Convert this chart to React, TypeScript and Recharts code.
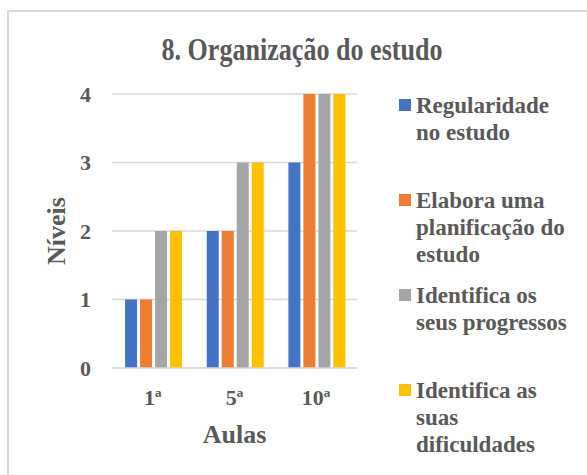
import React from "react";
import { BarChart, Bar, XAxis, YAxis, CartesianGrid } from "recharts";

const aulas = ["1ª", "5ª", "10ª"];
const regularidade = [1, 2, 3];
const planificacao = [1, 2, 4];
const progressos = [2, 3, 4];
const dificuldades = [2, 3, 4];
const niveis = [0, 1, 2, 3, 4];

const series = [
  { key: "regularidade", name: "Regularidade no estudo", color: "#4472C4" },
  { key: "planificacao", name: "Elabora uma planificação do estudo", color: "#ED7D31" },
  { key: "progressos", name: "Identifica os seus progressos", color: "#A5A5A5" },
  { key: "dificuldades", name: "Identifica as suas dificuldades", color: "#FFC000" },
];

const data = aulas.map((aula, i) => ({
  aula,
  regularidade: regularidade[i],
  planificacao: planificacao[i],
  progressos: progressos[i],
  dificuldades: dificuldades[i],
}));

const font = '"Liberation Serif", "Times New Roman", serif';
const textColor = "#595959";
const gridColor = "#d9d9d9";

export default function App() {
  return (
    <div style={{ position: "absolute", left: 0, top: 0, width: 587, height: 475, overflow: "hidden", background: "#fff", fontFamily: font }}>
      {/* frame, only top/left edges show in the crop */}
      <div style={{ position: "absolute", left: 7, top: 10, width: 620, height: 520, border: `2px solid ${gridColor}` }} />

      {/* title is a bit squashed sideways in the original */}
      <svg width={587} height={80} style={{ position: "absolute", left: 0, top: 0 }}>
        <text
          x={302}
          y={60}
          textAnchor="middle"
          fontFamily={font}
          fontWeight="bold"
          fontSize={31}
          textLength={281}
          lengthAdjust="spacingAndGlyphs"
          fill={textColor}
        >
          8. Organização do estudo
        </text>
      </svg>

      <BarChart
        width={587}
        height={475}
        data={data}
        margin={{ top: 94, right: 230, bottom: 0, left: 0 }}
        barCategoryGap="16%"
        barGap={3}
        style={{ position: "absolute", left: 0, top: 0 }}
      >
        <CartesianGrid vertical={false} stroke={gridColor} strokeWidth={1.5} />
        <XAxis
          dataKey="aula"
          height={107}
          tickLine={false}
          axisLine={{ stroke: gridColor, strokeWidth: 1.5 }}
          tickMargin={15}
          tick={{ fontSize: 22, fontWeight: "bold", fill: textColor, fontFamily: font }}
          label={{ value: "Aulas", position: "insideBottom", offset: 32, fontSize: 26, fontWeight: "bold", fill: textColor, fontFamily: font }}
        />
        <YAxis
          width={112}
          domain={[0, 4]}
          ticks={niveis}
          tickLine={false}
          axisLine={false}
          tickMargin={15}
          tick={{ fontSize: 22, fontWeight: "bold", fill: textColor, fontFamily: font }}
          label={{ value: "Níveis", angle: -90, position: "center", fontSize: 26, fontWeight: "bold", fill: textColor, fontFamily: font }}
        />
        {series.map((s) => (
          <Bar key={s.key} dataKey={s.key} name={s.name} fill={s.color} isAnimationActive={false} />
        ))}
      </BarChart>

      <div style={{ position: "absolute", left: 399, top: 92 }}>
        {series.map((s) => (
          <div key={s.key} style={{ position: "relative", height: 95 }}>
            <div style={{ position: "absolute", left: 0, top: 7, width: 12, height: 12, background: s.color }} />
            <div
              style={{
                position: "absolute",
                left: 17,
                top: 0,
                width: 157,
                fontSize: 23,
                lineHeight: "27px",
                fontWeight: "bold",
                color: textColor,
              }}
            >
              {s.name}
            </div>
          </div>
        ))}
      </div>
    </div>
  );
}
